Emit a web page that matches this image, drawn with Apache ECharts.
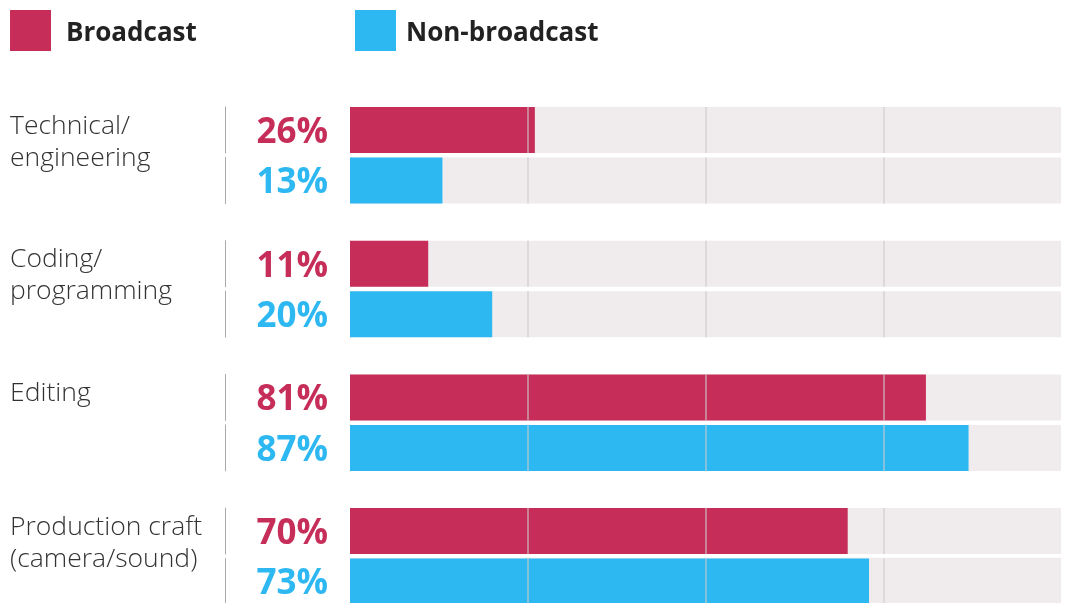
<!DOCTYPE html>
<html>
<head>
<meta charset="utf-8">
<script src="https://cdn.jsdelivr.net/npm/echarts@6/dist/echarts.min.js"></script>
<style>
  html, body { margin: 0; padding: 0; background: #fff; }
  #chart { width: 1066px; height: 603px; }
</style>
</head>
<body>
<div id="chart"></div>
<script>
// Skill categories and share of respondents (%)
const categories = ['Technical/\nengineering', 'Coding/\nprogramming', 'Editing', 'Production craft\n(camera/sound)'];
const seriesNames = ['Broadcast', 'Non-broadcast'];
const broadcast = [26, 11, 81, 70];
const nonBroadcast = [13, 20, 87, 73];
const xTicks = [0, 25, 50, 75, 100];

const COLORS = { 'Broadcast': '#C62D58', 'Non-broadcast': '#2EB8F1' };
const TRACK = '#F0ECED';
const FONT = '"Open Sans", "Noto Sans", sans-serif';

// layout of the four groups, each with two rows
const firstTop = 107, groupStep = 133.7, rowStep = 50.5, barH = 46;
const plotLeft = 350, plotRight = 5;

const grids = [], xAxes = [], yAxes = [], series = [], titles = [];

categories.forEach((cat, g) => {
  const gTop = firstTop + g * groupStep;
  titles.push({
    text: cat,
    left: 10,
    top: gTop + 3,
    padding: 0,
    textStyle: { fontFamily: FONT, fontSize: 26.5, fontWeight: 300, color: '#333', lineHeight: 32 }
  });
  [broadcast[g], nonBroadcast[g]].forEach((val, r) => {
    const idx = g * 2 + r;
    const name = seriesNames[r];
    grids.push({ left: plotLeft, right: plotRight, top: gTop + r * rowStep, height: barH });
    xAxes.push({
      type: 'value', gridIndex: idx, min: xTicks[0], max: xTicks[xTicks.length - 1],
      interval: xTicks[1] - xTicks[0], z: 5,
      axisLine: { show: false }, axisTick: { show: false }, axisLabel: { show: false },
      splitLine: {
        show: true, showMinLine: false, showMaxLine: false,
        lineStyle: { color: 'rgba(205,200,202,0.55)', width: 2 }
      }
    });
    // value label column, nudged a little below the row centre
    yAxes.push({
      type: 'category', gridIndex: idx, data: [name],
      axisLine: { show: false }, axisTick: { show: false },
      axisLabel: {
        margin: 22, formatter: () => val + '%',
        verticalAlign: 'top', lineHeight: 6,
        fontFamily: FONT, fontSize: 35, fontWeight: 'bold', color: COLORS[name]
      }
    });
    // thin divider left of the value labels
    yAxes.push({
      type: 'category', gridIndex: idx, data: [name], position: 'left', offset: plotLeft - 225,
      axisLine: { show: true, lineStyle: { color: '#AAAAAA', width: 1 } },
      axisTick: { show: false }, axisLabel: { show: false }
    });
    series.push({
      name: name, type: 'bar', xAxisIndex: idx, yAxisIndex: idx * 2,
      data: [val], barWidth: barH,
      itemStyle: { color: COLORS[name] },
      showBackground: true, backgroundStyle: { color: TRACK },
      silent: true
    });
  });
});

const legendBase = {
  top: 10, padding: 0, itemWidth: 41, itemHeight: 41, icon: 'rect', selectedMode: false,
  formatter: '{t|{name}}'
};
const legendRich = (leftPad) => ({
  t: {
    fontFamily: FONT, fontSize: 26, fontWeight: 'bold', color: '#222',
    padding: [6, 0, 0, leftPad]
  }
});

const chart = echarts.init(document.getElementById('chart'), null, { renderer: 'canvas' });
chart.setOption({
  animation: false,
  backgroundColor: '#fff',
  title: titles,
  legend: [
    Object.assign({}, legendBase, {
      left: 10, data: [seriesNames[0]],
      textStyle: { rich: legendRich(10) }
    }),
    Object.assign({}, legendBase, {
      left: 355, data: [seriesNames[1]],
      textStyle: { rich: legendRich(5) }
    })
  ],
  grid: grids,
  xAxis: xAxes,
  yAxis: yAxes,
  series: series
});
</script>
</body>
</html>
